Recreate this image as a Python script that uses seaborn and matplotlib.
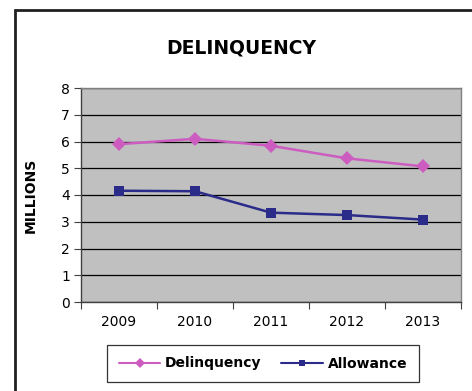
import matplotlib
matplotlib.use("Agg")
import matplotlib.pyplot as plt
import matplotlib.patches as mpatches
import seaborn as sns
import pandas as pd

years = ["2009", "2010", "2011", "2012", "2013"]
delinquency = [5.90, 6.10, 5.84, 5.37, 5.07]
allowance = [4.16, 4.14, 3.34, 3.25, 3.08]
series_names = ["Delinquency", "Allowance"]
y_ticks = [0, 1, 2, 3, 4, 5, 6, 7, 8]

df = pd.DataFrame({
    "pos": list(range(len(years))) * 2,
    "value": delinquency + allowance,
    "series": [series_names[0]] * len(years) + [series_names[1]] * len(years),
})

sns.set_style("white")
plt.rcParams["font.family"] = ["DejaVu Sans"]
plt.rcParams.update({"text.color": "black", "axes.labelcolor": "black",
                     "xtick.color": "black", "ytick.color": "black"})

W, H = 472, 391
fig = plt.figure(figsize=(W / 100, H / 100), dpi=100)
ax = fig.add_axes([81 / W, 1 - 302 / H, 380 / W, 214 / H])

palette = {"Delinquency": "#CC5CC0", "Allowance": "#2B2B8A"}
markers = {"Delinquency": "D", "Allowance": "s"}
sns.lineplot(data=df, x="pos", y="value", hue="series", style="series",
             palette=palette, markers=markers, dashes=False, markersize=7,
             linewidth=1.8, markeredgewidth=0, ax=ax, legend=False)

ax.set_facecolor("#C0C0C0")
ax.set_xlim(-0.5, len(years) - 0.5)
ax.set_ylim(0, 8)
ax.set_yticks(y_ticks)
ax.set_yticklabels([str(t) for t in y_ticks])
ax.yaxis.grid(True, color="black", linewidth=0.9)
ax.set_axisbelow(True)

ax.set_xticks(range(len(years)))
ax.set_xticklabels(years)
ax.set_xticks([i - 0.5 for i in range(len(years) + 1)], minor=True)
ax.tick_params(axis="x", which="major", length=0, pad=9, labelsize=10,
               labelcolor="black")
ax.tick_params(axis="x", which="minor", length=5, width=0.8, color="#404040", direction="out")
ax.tick_params(axis="y", which="major", length=5, width=0.8, color="#404040",
               direction="out", labelsize=10, pad=3, labelcolor="black")
ax.tick_params(left=True, bottom=True, which="both")
ax.set_xlabel("")
ax.set_ylabel("MILLIONS", fontsize=10, fontweight="bold", labelpad=17,
              color="black")

for side in ["top", "right"]:
    ax.spines[side].set_color("#808080")
    ax.spines[side].set_linewidth(1.0)
for side in ["left", "bottom"]:
    ax.spines[side].set_color("#404040")
    ax.spines[side].set_linewidth(1.0)

fig.text(241 / W, 1 - 48 / H, "DELINQUENCY", ha="center", va="center",
         fontsize=13.5, fontweight="bold", color="black")

handles = [
    plt.Line2D([], [], color=palette[n], marker=markers[n], markersize=5,
               markeredgewidth=0, linewidth=1.5)
    for n in series_names
]
leg = fig.legend(handles, series_names, loc="center",
                 bbox_to_anchor=(263 / W, 1 - 363.5 / H), ncol=2,
                 frameon=True, fancybox=False, edgecolor="black",
                 prop={"weight": "bold", "size": 10}, handlelength=3.0,
                 handletextpad=0.35, columnspacing=1.4, borderpad=0.85)
for t in leg.get_texts():
    t.set_color("black")
leg.get_frame().set_linewidth(0.9)

# outer chart-area border (top and left edges visible)
fig.patches.append(mpatches.Rectangle((15 / W, -0.2), 2.0, (H - 10) / H + 0.2,
                                      transform=fig.transFigure, fill=False,
                                      edgecolor="#202020", linewidth=2.0))

fig.savefig("out.png", dpi=100)
